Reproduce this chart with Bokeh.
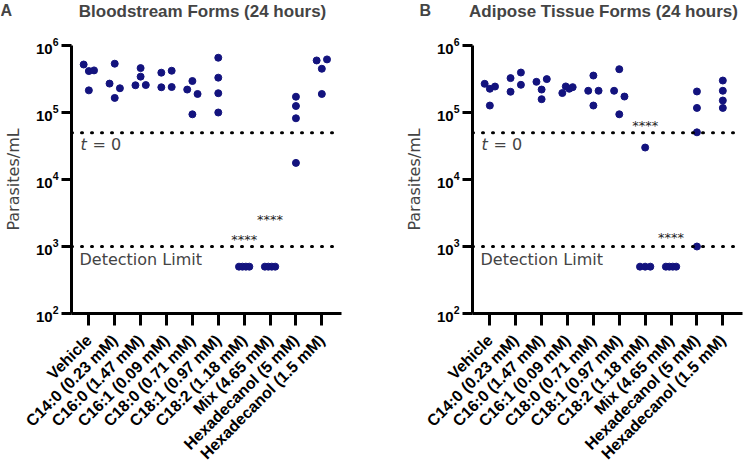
import math
import numpy as np
from bokeh.plotting import figure
from bokeh.layouts import row, column
from bokeh.models import FixedTicker, Span, Label, Range1d, LogTickFormatter
from bokeh.embed import file_html
from bokeh.resources import INLINE

# ---------------- data ----------------
categories = ["Vehicle", "C14:0 (0.23 mM)", "C16:0 (1.47 mM)", "C16:1 (0.09 mM)",
              "C18:0 (0.71 mM)", "C18:1 (0.97 mM)", "C18:2 (1.18 mM)", "Mix (4.65 mM)",
              "Hexadecanol (5 mM)", "Hexadecanol (1.5 mM)"]

# Bloodstream forms, parasites/mL at 24 h (one list per category)
bsf_values = [
    [5.2e5, 4.15e5, 4.25e5, 2.14e5],
    [5.35e5, 2.7e5, 2.3e5, 1.65e5],
    [4.6e5, 3.43e5, 2.55e5, 2.57e5],
    [3.93e5, 4.2e5, 2.38e5, 2.4e5],
    [2.95e5, 2.2e5, 1.89e5, 9.4e4],
    [6.57e5, 3.31e5, 1.94e5, 1.0e5],
    [500, 500, 500, 500],
    [500, 500, 500, 500],
    [1.72e5, 1.25e5, 8.2e4, 1.77e4],
    [5.98e5, 6.2e5, 4.5e5, 1.89e5],
]

# Adipose tissue forms, parasites/mL at 24 h
atf_values = [
    [2.68e5, 2.26e5, 2.44e5, 1.27e5],
    [3.26e5, 3.95e5, 2.04e5, 2.59e5],
    [2.87e5, 3.15e5, 2.2e5, 1.58e5],
    [1.95e5, 2.45e5, 2.26e5, 2.39e5],
    [3.56e5, 2.11e5, 2.11e5, 1.27e5],
    [4.43e5, 2.11e5, 1.73e5, 9.4e4],
    [3.0e4, 500, 500, 500],
    [500, 500, 500, 500],
    [2.06e5, 1.17e5, 5.06e4, 1.0e3],
    [3.0e5, 2.11e5, 1.51e5, 1.17e5],
]

t0_level = 5e4
detection_limit = 1e3

bsf_star_groups = [6, 7]
bsf_star_levels = [1.43e3, 2.83e3]
atf_star_groups = [6, 7]
atf_star_levels = [7.2e4, 1.51e3]

y_ticks = [1e2, 1e3, 1e4, 1e5, 1e6]

DOT = "#13137e"
NORMAL_FONT = "DejaVu Sans"
BOLD_FONT = "Liberation Sans"

FRAME_W = 270
FRAME_H = 268
HEADER_H = 22
TOP = 23
BOTTOM = 458 - HEADER_H - TOP - FRAME_H


def swarm_offsets(values, thresh=0.105, half=0.2):
    """Prism-like scatter: points within ~one dot diameter vertically share a row."""
    logs = np.log10(values)
    order = sorted(range(len(values)), key=lambda i: -logs[i])
    rows = []
    for i in order:
        if rows and logs[rows[-1][0]] - logs[i] < thresh:
            rows[-1].append(i)
        else:
            rows.append([i])
    off = [0.0] * len(values)
    for r in rows:
        r = sorted(r)
        n = len(r)
        for k, i in enumerate(r):
            off[i] = 0.0 if n == 1 else -half + 2 * half * k / (n - 1)
    return off


def make_header(title, letter, letter_x, left_border, right_border):
    W = left_border + FRAME_W + right_border
    h = figure(width=W, height=HEADER_H, x_range=Range1d(0, W),
               y_range=Range1d(0, HEADER_H), output_backend="svg",
               toolbar_location=None, x_axis_location=None, y_axis_location=None,
               min_border_left=0, min_border_right=0, min_border_top=0,
               min_border_bottom=0)
    try:
        h.frame_align = False
    except Exception:
        pass
    h.outline_line_color = None
    h.grid.visible = False
    h.add_layout(Label(x=left_border + FRAME_W / 2, y=HEADER_H - 1, text=title,
                       text_font=BOLD_FONT, text_font_style="bold",
                       text_font_size="17px", text_align="center",
                       text_baseline="top"))
    h.add_layout(Label(x=letter_x, y=HEADER_H - 1, text=letter,
                       text_font=BOLD_FONT, text_font_style="bold",
                       text_font_size="16px", text_align="left",
                       text_baseline="top"))
    return h


def make_panel(values, star_groups, star_levels, left_border, right_border):
    p = figure(frame_width=FRAME_W, frame_height=FRAME_H, y_axis_type="log",
               x_range=Range1d(-0.67, 9.76), y_range=Range1d(1e2, 1e6),
               output_backend="svg", toolbar_location=None,
               min_border_left=left_border, min_border_right=right_border,
               min_border_top=TOP, min_border_bottom=BOTTOM)
    try:
        p.frame_align = False
    except Exception:
        pass
    p.background_fill_color = "white"
    p.border_fill_color = "white"
    p.outline_line_color = None
    p.xgrid.visible = False
    p.ygrid.visible = False

    xs, ys = [], []
    for gi, vals in enumerate(values):
        offs = swarm_offsets(vals)
        for v, o in zip(vals, offs):
            xs.append(gi + o)
            ys.append(v)
    p.scatter(xs, ys, size=7, color=DOT, line_color=DOT)

    for lvl in (t0_level, detection_limit):
        p.add_layout(Span(location=lvl, dimension="width", line_color="black",
                          line_width=3, line_dash="1 9", line_cap="round"))

    # axes
    xa = p.xaxis[0]
    xa.ticker = FixedTicker(ticks=list(range(len(categories))))
    xa.major_label_overrides = {i: c for i, c in enumerate(categories)}
    xa.major_label_orientation = math.pi / 4
    xa.major_label_text_font = BOLD_FONT
    xa.major_label_text_font_style = "bold"
    xa.major_label_text_font_size = "16px"
    xa.major_label_text_color = "black"
    xa.major_label_standoff = 12
    xa.minor_tick_line_color = None
    xa.major_tick_out = 12
    xa.major_tick_in = 0

    ya = p.yaxis[0]
    ya.ticker = FixedTicker(ticks=y_ticks)
    ya.formatter = LogTickFormatter()
    ya.major_label_text_font = BOLD_FONT
    ya.major_label_text_font_style = "bold"
    ya.major_label_text_font_size = "15px"
    ya.major_label_text_color = "black"
    ya.major_label_standoff = 3
    ya.minor_tick_line_color = None
    ya.major_tick_out = 10
    ya.major_tick_in = 0
    ya.axis_label = "Parasites/mL"
    ya.axis_label_text_font = NORMAL_FONT
    ya.axis_label_text_font_style = "normal"
    ya.axis_label_text_font_size = "16px"
    ya.axis_label_standoff = 10

    for ax in (xa, ya):
        ax.axis_line_width = 3
        ax.axis_line_color = "black"
        ax.major_tick_line_width = 3
        ax.major_tick_line_color = "black"

    # in-plot annotations
    p.add_layout(Label(x=9, x_units="screen", y=t0_level, text="t",
                       text_font=NORMAL_FONT, text_font_style="italic",
                       text_font_size="16px", text_baseline="top", y_offset=-2))
    p.add_layout(Label(x=21, x_units="screen", y=t0_level, text="= 0",
                       text_font=NORMAL_FONT, text_font_size="16px",
                       text_baseline="top", y_offset=-2))
    p.add_layout(Label(x=8, x_units="screen", y=detection_limit, text="Detection Limit",
                       text_font=NORMAL_FONT, text_font_size="16px",
                       text_baseline="top", y_offset=-3))
    for g, lvl in zip(star_groups, star_levels):
        p.add_layout(Label(x=g, y=lvl, text="****", text_font=NORMAL_FONT,
                           text_font_size="13px", text_align="center",
                           text_baseline="middle", y_offset=-3,
                           text_color="#222222"))
    return p


LB, GAP, RB = 67, 60, 3
h1 = make_header("Bloodstream Forms (24 hours)", "A", 0, LB, GAP)
p1 = make_panel(bsf_values, bsf_star_groups, bsf_star_levels, LB, GAP)
h2 = make_header("Adipose Tissue Forms (24 hours)", "B", 18, LB, RB)
p2 = make_panel(atf_values, atf_star_groups, atf_star_levels, LB, RB)

layout = row(column(h1, p1), column(h2, p2))
open("out.html", "w").write(file_html(layout, INLINE))
